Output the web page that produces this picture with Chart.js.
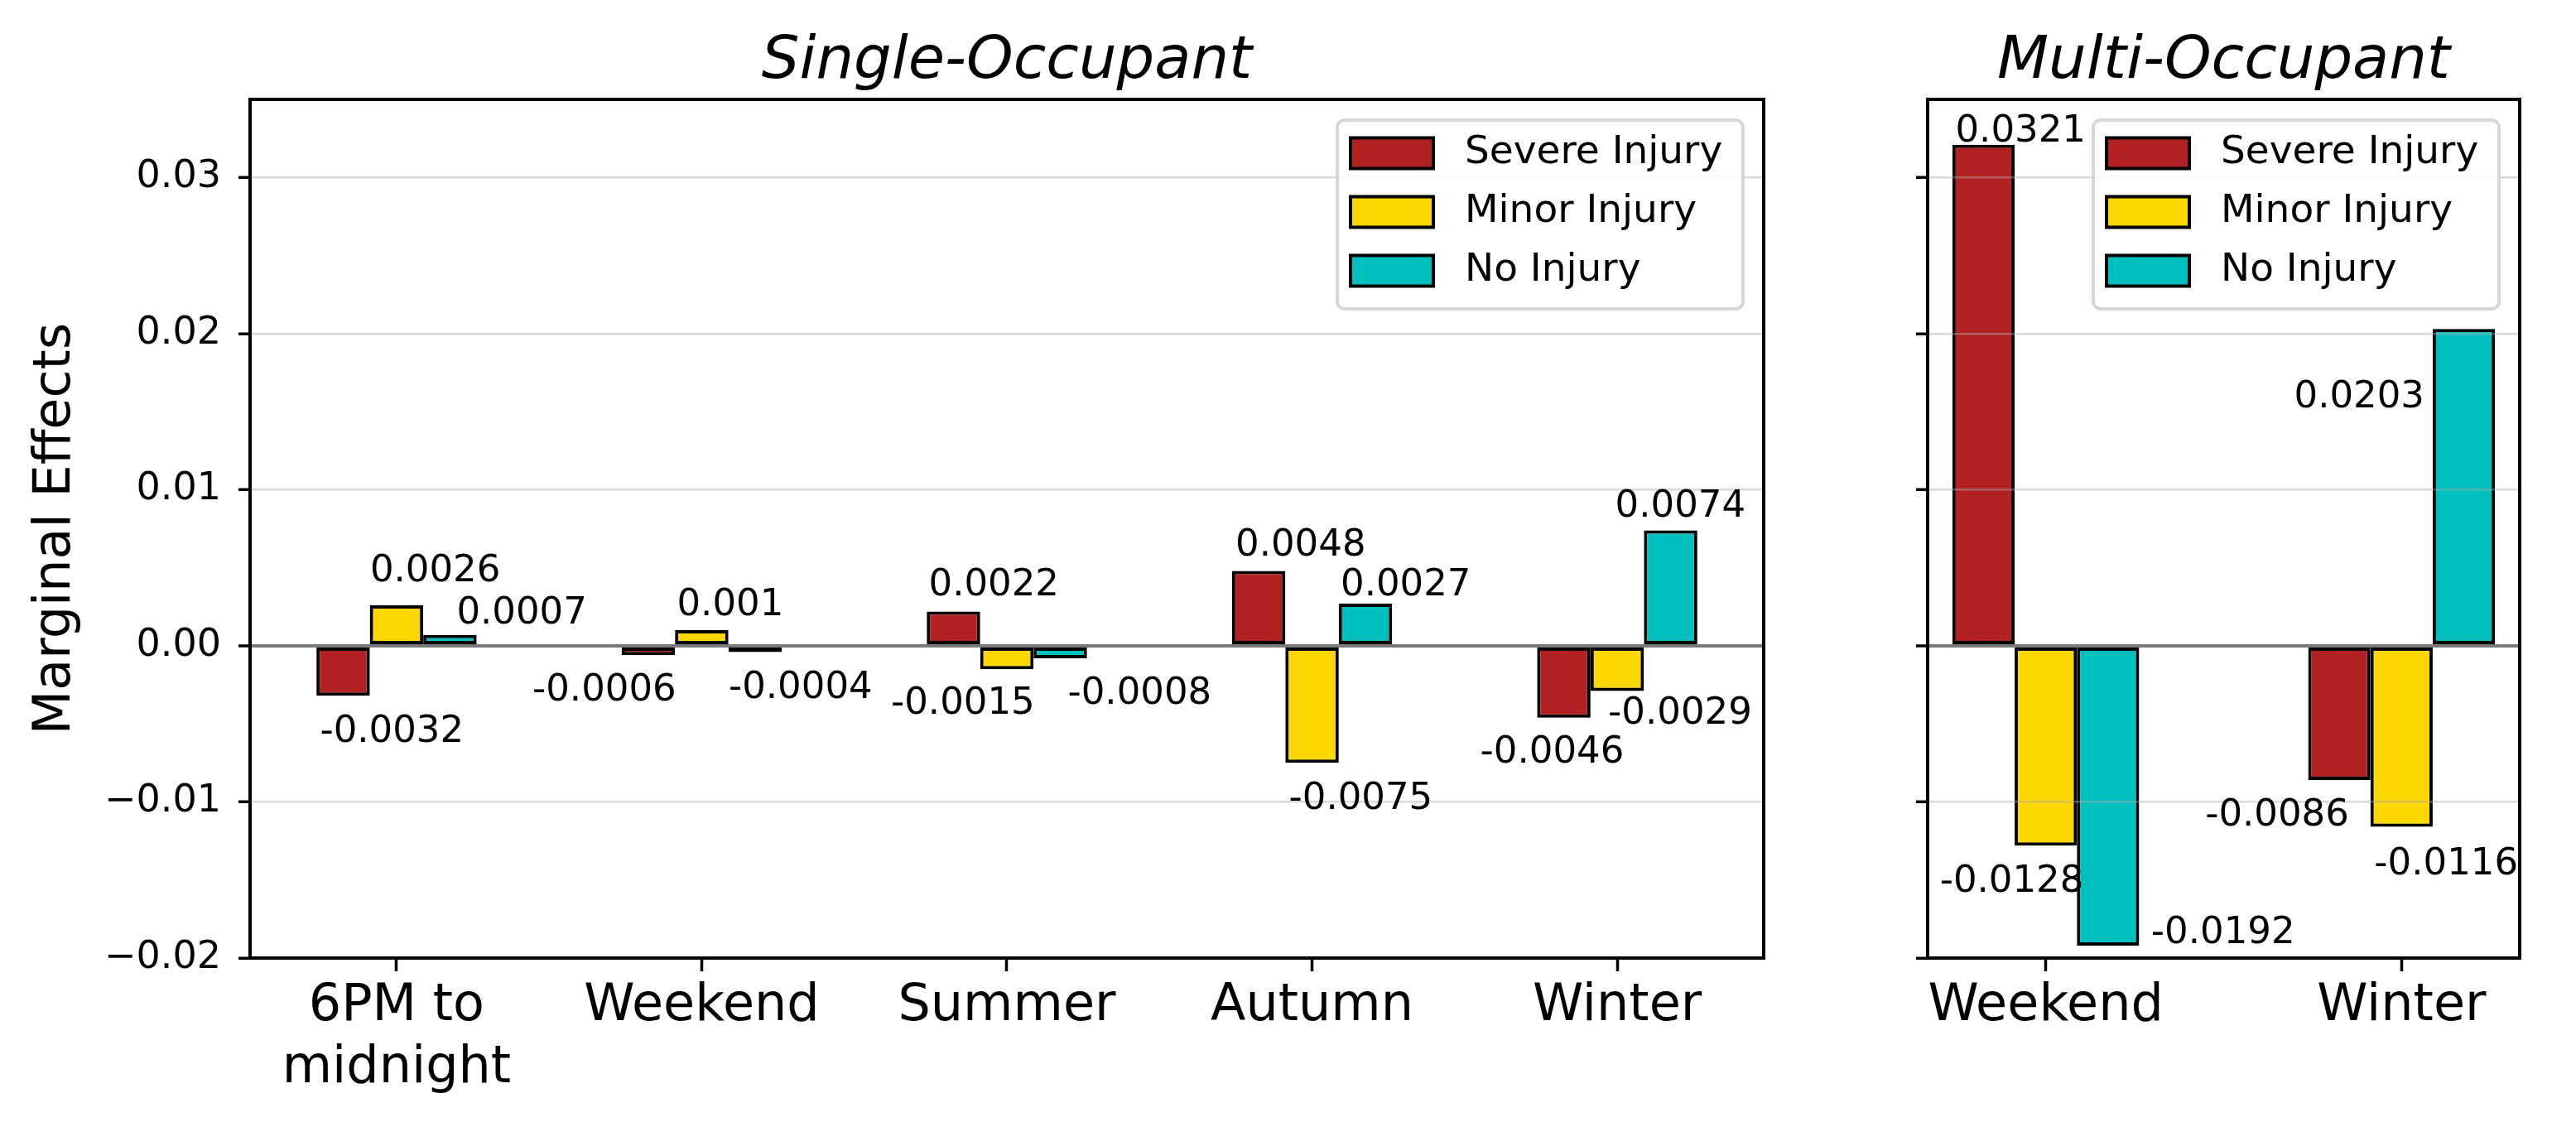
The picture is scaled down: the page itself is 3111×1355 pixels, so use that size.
<!DOCTYPE html>
<html>
<head>
<meta charset="utf-8">
<script src="https://cdn.jsdelivr.net/npm/chart.js@4.4.1/dist/chart.umd.min.js"></script>
<style>
  body { margin: 0; background: #fff; width: 3111px; height: 1355px; position: relative; overflow: hidden; }
  canvas { position: absolute; top: 0; }
  #singleChart { left: 0; }
  #multiChart { left: 2230px; }
</style>
</head>
<body>
<canvas id="singleChart" width="2230" height="1355"></canvas>
<canvas id="multiChart" width="881" height="1355"></canvas>
<script>
const singleCategories = [["6PM to", "midnight"], "Weekend", "Summer", "Autumn", "Winter"];
const multiCategories = ["Weekend", "Winter"];
const seriesNames = ["Severe Injury", "Minor Injury", "No Injury"];

const singleSevere = [-0.0032, -0.0006, 0.0022, 0.0048, -0.0046];
const singleMinor = [0.0026, 0.001, -0.0015, -0.0075, -0.0029];
const singleNone = [0.0007, -0.0004, -0.0008, 0.0027, 0.0074];

const multiSevere = [0.0321, -0.0086];
const multiMinor = [-0.0128, -0.0116];
const multiNone = [-0.0192, 0.0203];

const yTicks = [-0.02, -0.01, 0, 0.01, 0.02, 0.03];

// where each value label sits, in px from the bar end (hand placed in the original)
const singleNudgeX = [[-28, -140, -30, -28, -101], [-32, -30, -140, -28, -11], [8, -32, 9, -30, -67]];
const singleNudgeY = [[56, 55, -19, -18, 54], [-29, -18, 54, 56, 39], [-14, 56, 55, -10, -16]];
const multiNudgeX = [[-34, -162], [-128, -33], [52, -205]];
const multiNudgeY = [[-4, 55], [56, 57], [-3, 95]];

const colors = ["#b22222", "#ffd700", "#00bfbf"];

Chart.defaults.font.family = "'DejaVu Sans', sans-serif";
Chart.defaults.color = "#000";

function bars(label, values, color) {
  return {
    label: label,
    data: values.map((v, i) => ({ x: i, y: v })),
    backgroundColor: color,
    borderColor: "#000",
    borderWidth: 4,
    borderSkipped: false,
    barPercentage: 1,
    categoryPercentage: 0.525,
  };
}

// title, value labels, full frame and the legend box
const decorations = {
  id: "decorations",
  afterDraw(chart, args, opts) {
    const { ctx, chartArea: a } = chart;
    ctx.save();

    ctx.strokeStyle = "#000";
    ctx.lineWidth = 4;
    ctx.strokeRect(a.left, a.top, a.right - a.left, a.bottom - a.top);

    ctx.fillStyle = "#000";
    ctx.font = "45px 'DejaVu Sans'";
    ctx.textAlign = "left";
    ctx.textBaseline = "alphabetic";
    chart.data.datasets.forEach((ds, i) => {
      chart.getDatasetMeta(i).data.forEach((bar, j) => {
        ctx.fillText(String(ds.data[j].y), bar.x + opts.dx[i][j], bar.y + opts.dy[i][j]);
      });
    });

    ctx.font = "italic 72px 'DejaVu Sans'";
    ctx.textAlign = "center";
    ctx.fillText(opts.title, (a.left + a.right) / 2, a.top - 26);

    // legend
    const lw = 490, lh = 228;
    const lx = a.right - 25 - lw, ly = a.top + 25;
    ctx.beginPath();
    ctx.roundRect(lx, ly, lw, lh, 9);
    ctx.fillStyle = "rgba(255,255,255,0.8)";
    ctx.fill();
    ctx.strokeStyle = "#d6d6d6";
    ctx.lineWidth = 4;
    ctx.stroke();
    ctx.font = "47px 'DejaVu Sans'";
    ctx.textAlign = "left";
    ctx.textBaseline = "middle";
    chart.data.datasets.forEach((ds, i) => {
      const cy = ly + 40 + i * 71;
      ctx.fillStyle = ds.backgroundColor;
      ctx.fillRect(lx + 16, cy - 18.5, 100, 37);
      ctx.strokeStyle = "#000";
      ctx.lineWidth = 4;
      ctx.strokeRect(lx + 16, cy - 18.5, 100, 37);
      ctx.fillStyle = "#000";
      ctx.fillText(ds.label, lx + 154, cy);
    });
    ctx.restore();
  },
};

function makeChart(id, cats, series, setup) {
  return new Chart(document.getElementById(id), {
    type: "bar",
    data: {
      datasets: series.map((vals, i) => bars(seriesNames[i], vals, colors[i])),
    },
    plugins: [decorations],
    options: {
      responsive: false,
      animation: false,
      devicePixelRatio: 1,
      layout: { padding: { top: 120, right: setup.padRight, left: 0, bottom: 0 } },
      plugins: {
        legend: { display: false },
        tooltip: { enabled: false },
        decorations: { title: setup.title, dx: setup.dx, dy: setup.dy },
      },
      scales: {
        x: {
          type: "linear",
          min: setup.xMin,
          max: setup.xMax,
          offset: false,
          afterBuildTicks: (axis) => { axis.ticks = cats.map((c, i) => ({ value: i })); },
          afterFit: (axis) => { axis.height = 198; },
          ticks: {
            font: { size: 62 },
            padding: 6,
            autoSkip: false,
            maxRotation: 0,
            callback: (v, i) => cats[i],
          },
          grid: { offset: false, drawOnChartArea: false, z: 1, tickColor: "#000", tickWidth: 3.5, tickLength: 16 },
          border: { color: "#000", width: 4, z: 2 },
        },
        y: {
          min: -0.02,
          max: 0.035,
          afterBuildTicks: (axis) => { axis.ticks = yTicks.map((v) => ({ value: v })); },
          afterFit: (axis) => { axis.width = setup.yWidth; },
          ticks: {
            font: { size: 46 },
            padding: 21,
            callback: setup.showY ? (v) => v.toFixed(2).replace("-", "\u2212") : () => "",
          },
          grid: {
            z: 1,
            color: (c) => (c.tick && c.tick.value === 0 ? "#7a7a7a" : "rgba(170,170,170,0.45)"),
            lineWidth: (c) => (c.tick && c.tick.value === 0 ? 4 : 2.5),
            tickColor: "#000",
            tickWidth: 3.5,
            tickLength: 14,
          },
          border: { color: "#000", width: 4, z: 2 },
          title: {
            display: setup.showY,
            text: "Marginal Effects",
            font: { size: 62 },
            padding: { top: 31, bottom: 0 },
          },
        },
      },
    },
  });
}

makeChart("singleChart", singleCategories, [singleSevere, singleMinor, singleNone], {
  title: "Single-Occupant",
  xMin: -0.48, xMax: 4.48,
  yWidth: 302, padRight: 100, showY: true,
  dx: singleNudgeX, dy: singleNudgeY,
});

makeChart("multiChart", multiCategories, [multiSevere, multiMinor, multiNone], {
  title: "Multi-Occupant",
  xMin: -0.332, xMax: 1.332,
  yWidth: 98, padRight: 68, showY: false,
  dx: multiNudgeX, dy: multiNudgeY,
});
</script>
</body>
</html>
